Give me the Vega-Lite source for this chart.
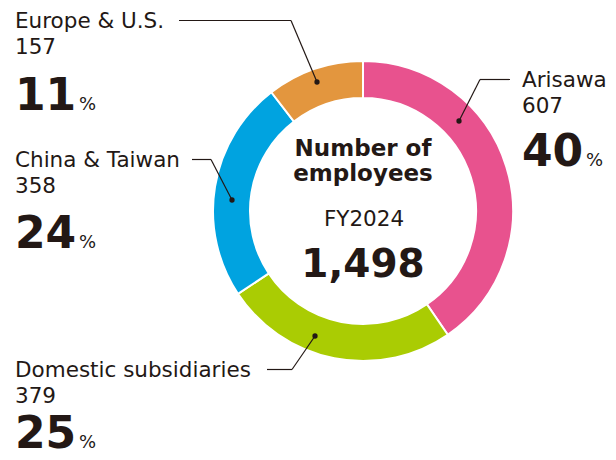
{
  "$schema": "https://vega.github.io/schema/vega-lite/v6.json",
  "width": 616,
  "height": 460,
  "autosize": "none",
  "padding": 0,
  "background": "white",
  "config": {"view": {"stroke": null}},
  "data": {
    "values": [
      {"category": "Arisawa", "value": 607, "pct": 40},
      {"category": "Domestic subsidiaries", "value": 379, "pct": 25},
      {"category": "China & Taiwan", "value": 358, "pct": 24},
      {"category": "Europe & U.S.", "value": 157, "pct": 11}
    ]
  },
  "layer": [
    {
      "mark": {"type": "arc", "outerRadius": 150, "innerRadius": 113, "stroke": "white", "strokeWidth": 2},
      "encoding": {
        "theta": {"field": "value", "type": "quantitative", "stack": true},
        "order": {"field": "value", "sort": "descending"},
        "color": {
          "field": "category",
          "type": "nominal",
          "scale": {
            "domain": ["Arisawa", "Domestic subsidiaries", "China & Taiwan", "Europe & U.S."],
            "range": ["#E8528E", "#AACC03", "#00A3E0", "#E3963E"]
          },
          "legend": null
        },
        "x": {"datum": 363, "type": "quantitative", "scale": {"domain": [0, 616], "nice": false, "zero": false}, "axis": null},
        "y": {"datum": 211, "type": "quantitative", "scale": {"domain": [0, 460], "nice": false, "zero": false, "reverse": true}, "axis": null}
      }
    },
    {
      "transform": [
        {"calculate": "datum.category === 'Arisawa' ? 522 : 15", "as": "lx"},
        {"calculate": "{'Arisawa': 87, 'Domestic subsidiaries': 377, 'China & Taiwan': 167, 'Europe & U.S.': 28}[datum.category]", "as": "ny"},
        {"calculate": "{'Arisawa': 166, 'Domestic subsidiaries': 448, 'China & Taiwan': 248, 'Europe & U.S.': 110}[datum.category]", "as": "qy"},
        {"calculate": "datum.ny - 7.5", "as": "ly"},
        {"calculate": "{'Arisawa': 510, 'Domestic subsidiaries': 267, 'China & Taiwan': 192, 'Europe & U.S.': 179}[datum.category]", "as": "sx"},
        {"calculate": "{'Arisawa': 480, 'Domestic subsidiaries': 292, 'China & Taiwan': 211, 'Europe & U.S.': 291}[datum.category]", "as": "ex"},
        {"calculate": "{'Arisawa': 459, 'Domestic subsidiaries': 315, 'China & Taiwan': 232, 'Europe & U.S.': 317}[datum.category]", "as": "px"},
        {"calculate": "{'Arisawa': 121, 'Domestic subsidiaries': 336, 'China & Taiwan': 200, 'Europe & U.S.': 82}[datum.category]", "as": "py"}
      ],
      "layer": [
        {
          "mark": {"type": "text", "align": "left", "baseline": "alphabetic", "font": "DejaVu Sans", "fontSize": 21.5, "color": "#231815"},
          "encoding": {
            "x": {"field": "lx", "type": "quantitative", "scale": {"domain": [0, 616], "nice": false, "zero": false}, "axis": null},
            "y": {"field": "ny", "type": "quantitative", "scale": {"domain": [0, 460], "nice": false, "zero": false, "reverse": true}, "axis": null},
            "text": {"field": "category", "type": "nominal"}
          }
        },
        {
          "mark": {"type": "text", "align": "left", "baseline": "alphabetic", "font": "DejaVu Sans", "fontSize": 21.5, "color": "#231815", "dy": 26},
          "encoding": {
            "x": {"field": "lx", "type": "quantitative", "scale": {"domain": [0, 616], "nice": false, "zero": false}, "axis": null},
            "y": {"field": "ny", "type": "quantitative", "scale": {"domain": [0, 460], "nice": false, "zero": false, "reverse": true}, "axis": null},
            "text": {"field": "value", "type": "quantitative", "format": "d"}
          }
        },
        {
          "mark": {"type": "text", "align": "left", "baseline": "alphabetic", "font": "DejaVu Sans", "fontWeight": "bold", "fontSize": 44, "color": "#231815"},
          "encoding": {
            "x": {"field": "lx", "type": "quantitative", "scale": {"domain": [0, 616], "nice": false, "zero": false}, "axis": null},
            "y": {"field": "qy", "type": "quantitative", "scale": {"domain": [0, 460], "nice": false, "zero": false, "reverse": true}, "axis": null},
            "text": {"field": "pct", "type": "quantitative", "format": "d"}
          }
        },
        {
          "mark": {"type": "text", "align": "left", "baseline": "alphabetic", "font": "DejaVu Sans", "fontSize": 18, "color": "#231815", "dx": 64, "text": "%"},
          "encoding": {
            "x": {"field": "lx", "type": "quantitative", "scale": {"domain": [0, 616], "nice": false, "zero": false}, "axis": null},
            "y": {"field": "qy", "type": "quantitative", "scale": {"domain": [0, 460], "nice": false, "zero": false, "reverse": true}, "axis": null}
          }
        },
        {
          "mark": {"type": "rule", "color": "#231815", "strokeWidth": 1.2},
          "encoding": {
            "x": {"field": "sx", "type": "quantitative", "scale": {"domain": [0, 616], "nice": false, "zero": false}, "axis": null},
            "x2": {"field": "ex"},
            "y": {"field": "ly", "type": "quantitative", "scale": {"domain": [0, 460], "nice": false, "zero": false, "reverse": true}, "axis": null},
            "y2": {"field": "ly"}
          }
        },
        {
          "mark": {"type": "rule", "color": "#231815", "strokeWidth": 1.2},
          "encoding": {
            "x": {"field": "ex", "type": "quantitative", "scale": {"domain": [0, 616], "nice": false, "zero": false}, "axis": null},
            "x2": {"field": "px"},
            "y": {"field": "ly", "type": "quantitative", "scale": {"domain": [0, 460], "nice": false, "zero": false, "reverse": true}, "axis": null},
            "y2": {"field": "py"}
          }
        },
        {
          "mark": {"type": "circle", "color": "#231815", "size": 28, "opacity": 1},
          "encoding": {
            "x": {"field": "px", "type": "quantitative", "scale": {"domain": [0, 616], "nice": false, "zero": false}, "axis": null},
            "y": {"field": "py", "type": "quantitative", "scale": {"domain": [0, 460], "nice": false, "zero": false, "reverse": true}, "axis": null}
          }
        }
      ]
    },
    {
      "data": {"values": [{"label": "FY2024", "total": 1498}]},
      "layer": [
        {
          "mark": {"type": "text", "align": "center", "baseline": "alphabetic", "font": "DejaVu Sans", "fontWeight": "bold", "fontSize": 23, "color": "#231815", "text": "Number of"},
          "encoding": {
            "x": {"datum": 363, "type": "quantitative", "scale": {"domain": [0, 616], "nice": false, "zero": false}, "axis": null},
            "y": {"datum": 156, "type": "quantitative", "scale": {"domain": [0, 460], "nice": false, "zero": false, "reverse": true}, "axis": null}
          }
        },
        {
          "mark": {"type": "text", "align": "center", "baseline": "alphabetic", "font": "DejaVu Sans", "fontWeight": "bold", "fontSize": 23, "color": "#231815", "text": "employees"},
          "encoding": {
            "x": {"datum": 363, "type": "quantitative", "scale": {"domain": [0, 616], "nice": false, "zero": false}, "axis": null},
            "y": {"datum": 181, "type": "quantitative", "scale": {"domain": [0, 460], "nice": false, "zero": false, "reverse": true}, "axis": null}
          }
        },
        {
          "mark": {"type": "text", "align": "center", "baseline": "alphabetic", "font": "DejaVu Sans", "fontSize": 21.5, "color": "#231815"},
          "encoding": {
            "x": {"datum": 364, "type": "quantitative", "scale": {"domain": [0, 616], "nice": false, "zero": false}, "axis": null},
            "y": {"datum": 226, "type": "quantitative", "scale": {"domain": [0, 460], "nice": false, "zero": false, "reverse": true}, "axis": null},
            "text": {"field": "label", "type": "nominal"}
          }
        },
        {
          "mark": {"type": "text", "align": "center", "baseline": "alphabetic", "font": "DejaVu Sans", "fontWeight": "bold", "fontSize": 39, "color": "#231815"},
          "encoding": {
            "x": {"datum": 363, "type": "quantitative", "scale": {"domain": [0, 616], "nice": false, "zero": false}, "axis": null},
            "y": {"datum": 277, "type": "quantitative", "scale": {"domain": [0, 460], "nice": false, "zero": false, "reverse": true}, "axis": null},
            "text": {"field": "total", "type": "quantitative", "format": ","}
          }
        }
      ]
    }
  ]
}
